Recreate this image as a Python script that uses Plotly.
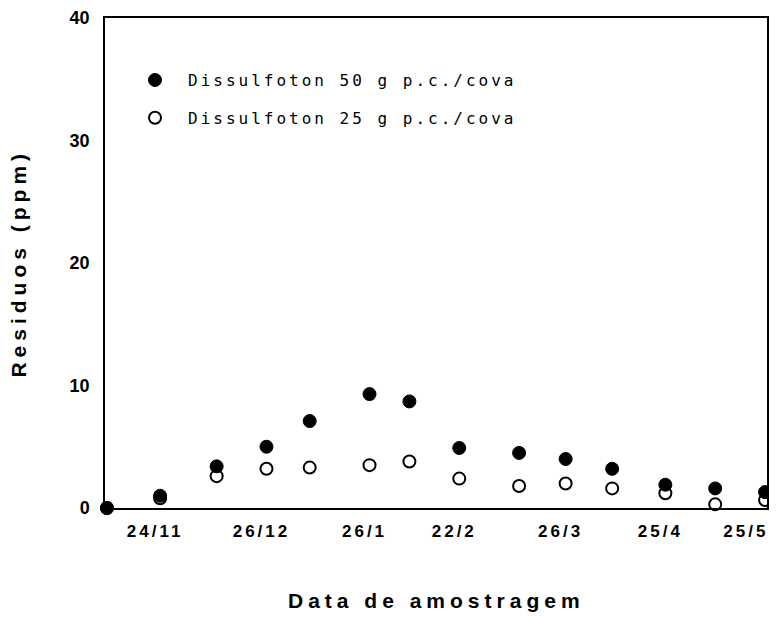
import plotly.graph_objects as go

dates = ["1986-11-08", "1986-11-24", "1986-12-11", "1986-12-26", "1987-01-08",
         "1987-01-26", "1987-02-07", "1987-02-22", "1987-03-12", "1987-03-26",
         "1987-04-09", "1987-04-25", "1987-05-10", "1987-05-25"]
dose50 = [0.0, 1.0, 3.4, 5.0, 7.1, 9.3, 8.7, 4.9, 4.5, 4.0, 3.2, 1.9, 1.6, 1.3]
dose25 = [0.0, 0.8, 2.6, 3.2, 3.3, 3.5, 3.8, 2.4, 1.8, 2.0, 1.6, 1.2, 0.3, 0.65]
tick_dates = ["1986-11-24", "1986-12-26", "1987-01-26", "1987-02-22",
              "1987-03-26", "1987-04-25", "1987-05-25"]
tick_labels = ["24/11", "26/12", "26/1", "22/2", "26/3", "25/4", "25/5"]
y_ticks = [0, 10, 20, 30, 40]
name50 = "Dissulfoton 50 g p.c./cova"
name25 = "Dissulfoton 25 g p.c./cova"

def spaced(t, px):
    return f'<span style="letter-spacing:{px}px">{t}</span>'

tick_text = [spaced(t, 3) for t in tick_labels]
# keep the last label inside the window (reference places it left of its point)
tick_text[-1] = tick_text[-1] + "\u00a0" * 6

fig = go.Figure()
fig.add_trace(go.Scatter(
    x=dates, y=dose25, mode="markers", name=spaced(name25, 3),
    legendrank=2, legendgroup="b", cliponaxis=False,
    marker=dict(symbol="circle", size=12, color="white",
                line=dict(color="black", width=2))))
fig.add_trace(go.Scatter(
    x=dates, y=dose50, mode="markers", name=spaced(name50, 3),
    legendrank=1, legendgroup="a", cliponaxis=False,
    marker=dict(symbol="circle", size=13, color="black",
                line=dict(color="black", width=1))))

fig.update_layout(
    width=761, height=608,
    margin=dict(l=97, r=2, t=10, b=108),
    paper_bgcolor="white", plot_bgcolor="white",
    showlegend=True,
    legend=dict(x=0.0257, y=0.908, xanchor="left", yanchor="top",
                traceorder="grouped", tracegroupgap=14, itemwidth=56,
                bgcolor="rgba(0,0,0,0)",
                font=dict(family="DejaVu Sans Mono", size=16, color="black")),
    xaxis=dict(type="date", range=["1986-11-07 10:00", "1987-05-25 14:00"],
               tickvals=tick_dates,
               ticktext=tick_text,
               ticks="", ticklabelstandoff=7, ticklabelshift=-5,
               ticklabeloverflow="allow",
               automargin=False,
               showgrid=False, zeroline=False,
               showline=True, linecolor="black", linewidth=1.5, mirror=True,
               tickfont=dict(family="Liberation Sans", size=17, color="black", weight="bold")),
    yaxis=dict(range=[0, 40], tickvals=y_ticks,
               ticks="", ticklabelstandoff=10, automargin=False,
               showgrid=False, zeroline=False,
               showline=True, linecolor="black", linewidth=1.5, mirror=True,
               tickfont=dict(family="Liberation Sans", size=18, color="black", weight="bold")),
    annotations=[
        dict(text=spaced("Data de amostragem", 5), xref="paper", yref="paper",
             x=0.5, y=-0.1878, xanchor="center", yanchor="middle", showarrow=False,
             font=dict(family="Liberation Sans", size=21, color="black", weight="bold")),
        dict(text=spaced("Residuos (ppm)", 5), xref="paper", yref="paper",
             x=-0.132, y=0.5, xanchor="center", yanchor="middle", showarrow=False,
             textangle=-90,
             font=dict(family="Liberation Sans", size=21, color="black", weight="bold")),
    ],
)
fig.write_html("out.html")
